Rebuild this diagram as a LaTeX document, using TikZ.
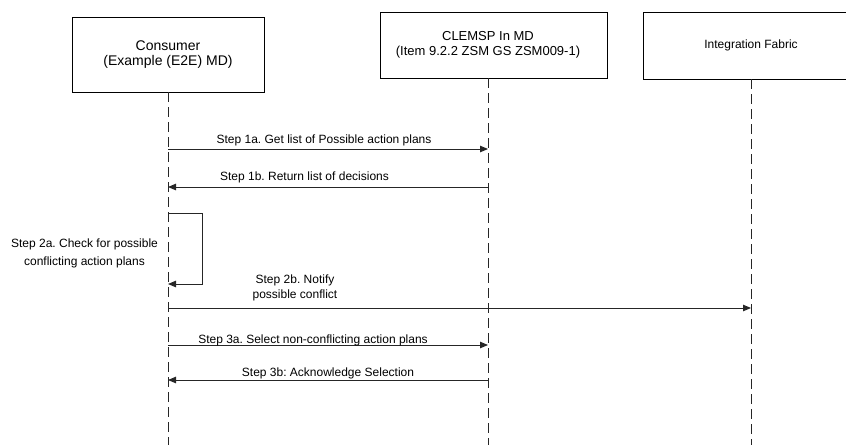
\documentclass[tikz,border=0pt]{standalone}
\usepackage{fontspec}
\setmainfont{Liberation Sans}
\usetikzlibrary{arrows.meta}
\frenchspacing
\begin{document}
\begin{tikzpicture}[x=1pt,y=-1pt,
  actor/.style={draw=black, line width=0.9pt, inner sep=0pt},
  lifeline/.style={draw=black!85, line width=0.9pt, dash pattern=on 10pt off 5pt},
  msg/.style={draw=black!85, line width=0.9pt, -{Triangle[length=8pt,width=6.5pt]}},
  lbl/.style={font=\fontsize{12}{15}\selectfont, inner sep=0pt, align=center}]
\useasboundingbox (0,0) rectangle (846,445);
\clip (0,0) rectangle (846,445);

% participant boxes
\node[actor, minimum width=192pt, minimum height=75pt, align=center,
      font=\fontsize{14}{15}\selectfont] (consumer) at (168,54.5)
      {Consumer\\(Example (E2E) MD)};
\node[actor, minimum width=227pt, minimum height=66pt] (clemsp) at (493.5,45) {};
\node[lbl, font=\fontsize{13}{15}\selectfont] (clemspT) at (488,44.5)
      {CLEMSP In MD\\(Item 9.2.2 ZSM GS ZSM009-1)};
\node[actor, minimum width=216pt, minimum height=67pt,
      font=\fontsize{12}{15}\selectfont] (fabric) at (751,45.5) {Integration Fabric};

% lifelines
\coordinate (cEnd) at (168,445);
\coordinate (mEnd) at (488,445);
\coordinate (fEnd) at (751,445);
\coordinate (mTop) at (488,78);
\draw[lifeline] (consumer.south) -- (cEnd);
\draw[lifeline] (mTop) -- (mEnd);
\draw[lifeline] (fabric.south) -- (fEnd);

% message rows
\coordinate (r1a) at (0,149);
\coordinate (r1b) at (0,187);
\coordinate (r2s) at (0,213);
\coordinate (r2e) at (0,284);
\coordinate (r2b) at (0,308);
\coordinate (r3a) at (0,345);
\coordinate (r3b) at (0,380);
\coordinate (loopx) at (202,0);

\draw[msg] (cEnd |- r1a) -- (mEnd |- r1a);
\node[lbl, anchor=base] (l1a) at (324,143) {Step 1a. Get list of Possible action plans};

\draw[msg] (mEnd |- r1b) -- (cEnd |- r1b);
\node[lbl, anchor=base] (l1b) at (304.5,180) {Step 1b. Return list of decisions};

\draw[msg] (cEnd |- r2s) -- (loopx |- r2s) -- (loopx |- r2e) -- (cEnd |- r2e);
\node[lbl, font=\fontsize{12}{18}\selectfont] (l2a) at (84.5,253)
      {Step 2a. Check for possible\\conflicting action plans};

\draw[msg] (cEnd |- r2b) -- (fEnd |- r2b);
\node[lbl] (l2b) at (295,287.5) {Step 2b. Notify\\possible conflict};

\draw[msg] (cEnd |- r3a) -- (mEnd |- r3a);
\node[lbl, anchor=base] (l3a) at (313,343) {Step 3a. Select non-conflicting action plans};

\draw[msg] (mEnd |- r3b) -- (cEnd |- r3b);
\node[lbl, anchor=base] (l3b) at (328,376.5) {Step 3b: Acknowledge Selection};
\end{tikzpicture}
\end{document}
